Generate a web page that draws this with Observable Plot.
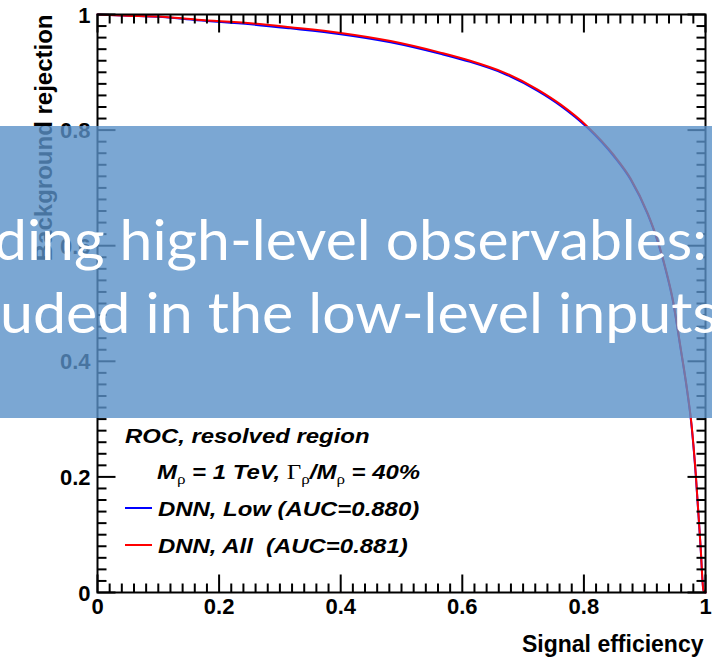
<!DOCTYPE html>
<html>
<head>
<meta charset="utf-8">
<script src="https://cdn.jsdelivr.net/npm/d3@7"></script>
<script src="https://cdn.jsdelivr.net/npm/@observablehq/plot@0.6"></script>
<style>
  html, body { margin: 0; padding: 0; background: #fff; }
  #chart { position: relative; width: 712px; height: 665px; }
</style>
</head>
<body>
<div id="chart"></div>
<script>
// ROC curves: signal efficiency vs background rejection
const efficiency   = [0, 0.049, 0.100, 0.164, 0.252, 0.317, 0.400, 0.482, 0.564, 0.613, 0.668, 0.724, 0.762, 0.806, 0.849, 0.877, 0.905, 0.921, 0.934, 0.946, 0.959, 0.970, 0.977, 0.984, 0.992, 0.9967, 1];
const rejectionAll = [1, 0.998, 0.9965, 0.991, 0.985, 0.978, 0.968, 0.954, 0.934, 0.920, 0.900, 0.870, 0.844, 0.806, 0.757, 0.716, 0.656, 0.610, 0.562, 0.508, 0.424, 0.349, 0.291, 0.205, 0.078, 0.003, 0];
const rejectionLow = [1, 0.998, 0.9960, 0.990, 0.983, 0.976, 0.966, 0.952, 0.932, 0.918, 0.898, 0.868, 0.842, 0.804, 0.755, 0.714, 0.654, 0.608, 0.560, 0.506, 0.422, 0.347, 0.289, 0.203, 0.077, 0.003, 0];

const seriesNames  = ["DNN, Low (AUC=0.880)", "DNN, All  (AUC=0.881)"];
const seriesColors = ["#0000ff", "#ff0000"];

const majorTicks = [0, 0.2, 0.4, 0.6, 0.8, 1];
const tickLabels = ["0", "0.2", "0.4", "0.6", "0.8", "1"];

const xTitle = "Signal efficiency";
const yTitle = "Background rejection";
const legendTitle = "ROC, resolved region";
const bannerLines = ["ding high-level observables:", "uded in the low-level inputs"];

// minor ticks every 0.02 between the labelled ones
const minorTicks = d3.range(0, 51).filter(i => i % 10 !== 0).map(i => i / 50);

const rows = [
  ...efficiency.map((e, i) => ({series: seriesNames[0], eff: e, rej: rejectionLow[i]})),
  ...efficiency.map((e, i) => ({series: seriesNames[1], eff: e, rej: rejectionAll[i]}))
];

const FONT = "'Liberation Sans', Arial, Helvetica, sans-serif";

// straight tick line pointing into the frame
const tickLine = {draw(ctx, l) { ctx.moveTo(0, 0); ctx.lineTo(0, -l); }};
function frameTicks(values, len) {
  const common = {length: len, shape: tickLine, anchor: "start", stroke: "black", strokeWidth: 2, strokeLinecap: "butt"};
  return [
    Plot.vector(values, {...common, x: d => d, frameAnchor: "bottom", rotate: 0}),
    Plot.vector(values, {...common, x: d => d, frameAnchor: "top", rotate: 180}),
    Plot.vector(values, {...common, y: d => d, frameAnchor: "left", rotate: 90}),
    Plot.vector(values, {...common, y: d => d, frameAnchor: "right", rotate: 270})
  ];
}

const labelFont = {fontFamily: FONT, fontWeight: "bold", fontSize: 22, fill: "black"};

const chart = Plot.plot({
  width: 712,
  height: 665,
  marginLeft: 97,
  marginRight: 7,
  marginTop: 14,
  marginBottom: 73,
  style: {fontFamily: FONT, background: "white"},
  x: {domain: [0, 1], axis: null},
  y: {domain: [0, 1], axis: null},
  color: {domain: seriesNames, range: seriesColors},
  marks: [
    Plot.line(rows, {x: "eff", y: "rej", z: "series", stroke: "series", strokeWidth: 2, curve: "monotone-x"}),
    ...frameTicks(minorTicks, 9),
    ...frameTicks(majorTicks, 18),
    Plot.frame({stroke: "black", strokeWidth: 2}),
    Plot.text(majorTicks, {x: d => d, text: (d, i) => tickLabels[i], frameAnchor: "bottom", dy: 21, ...labelFont}),
    Plot.text(majorTicks, {y: d => d, text: (d, i) => tickLabels[i], frameAnchor: "left", textAnchor: "end", dx: -7, dy: 1, ...labelFont}),
    Plot.text([xTitle], {text: d => d, frameAnchor: "bottom-right", textAnchor: "end", dx: -2, dy: 59, ...labelFont, fontSize: 23}),
    Plot.text([yTitle], {text: d => d, frameAnchor: "top-left", textAnchor: "end", rotate: -90, dx: -63, dy: 0, ...labelFont, fontSize: 24})
  ]
});

document.getElementById("chart").appendChild(chart);

const svg = d3.select(chart);

// legend block inside the frame (type set slightly wide)
const LX = 125, SX = 1.14;
const lx = px => (px - LX) / SX;
const legend = svg.append("g")
  .attr("transform", `translate(${LX},0) scale(${SX},1)`)
  .attr("text-anchor", "start")
  .attr("font-family", FONT)
  .attr("font-weight", "bold")
  .attr("font-style", "italic")
  .attr("font-size", 21)
  .attr("fill", "black");

legend.append("text").attr("x", lx(125)).attr("y", 443).text(legendTitle);

const params = legend.append("text").attr("x", lx(157)).attr("y", 479);
const serif = "'Liberation Serif', 'Times New Roman', serif";
const greek = sel => sel.attr("font-family", serif).attr("font-weight", "normal").attr("font-style", "normal");
params.append("tspan").text("M");
params.append("tspan").call(greek).attr("font-size", 15).attr("dy", 5).text("ρ");
params.append("tspan").attr("dy", -5).text(" = 1 TeV, ");
params.append("tspan").call(greek).attr("font-size", 22).text("Γ");
params.append("tspan").call(greek).attr("font-size", 15).attr("dy", 5).text("ρ");
params.append("tspan").attr("dy", -5).text("/M");
params.append("tspan").call(greek).attr("font-size", 15).attr("dy", 5).text("ρ");
params.append("tspan").attr("dy", -5).text(" = 40%");

seriesNames.forEach((name, i) => {
  const y = 508 + i * 37;
  svg.append("line")
    .attr("x1", 125).attr("x2", 152).attr("y1", y).attr("y2", y)
    .attr("stroke", seriesColors[i]).attr("stroke-width", 2);
  legend.append("text")
    .attr("x", lx(158)).attr("y", y + 8)
    .attr("xml:space", "preserve")
    .style("white-space", "pre")
    .text(name);
});

// translucent slide banner laid over the chart
const banner = svg.append("g").attr("text-anchor", "start");
banner.append("rect")
  .attr("x", 0).attr("y", 126).attr("width", 712).attr("height", 292)
  .attr("fill", "rgb(90,145,200)").attr("fill-opacity", 0.8);
const bannerX = [-6, 0];
const bannerY = [260, 333];
const bannerLen = [713, 718];
bannerLines.forEach((line, i) => {
  banner.append("text")
    .attr("x", bannerX[i]).attr("y", bannerY[i])
    .attr("font-family", "Lato, 'Open Sans', sans-serif")
    .attr("font-size", 57)
    .attr("fill", "white")
    .attr("textLength", bannerLen[i])
    .attr("lengthAdjust", "spacingAndGlyphs")
    .text(line);
});
</script>
</body>
</html>
